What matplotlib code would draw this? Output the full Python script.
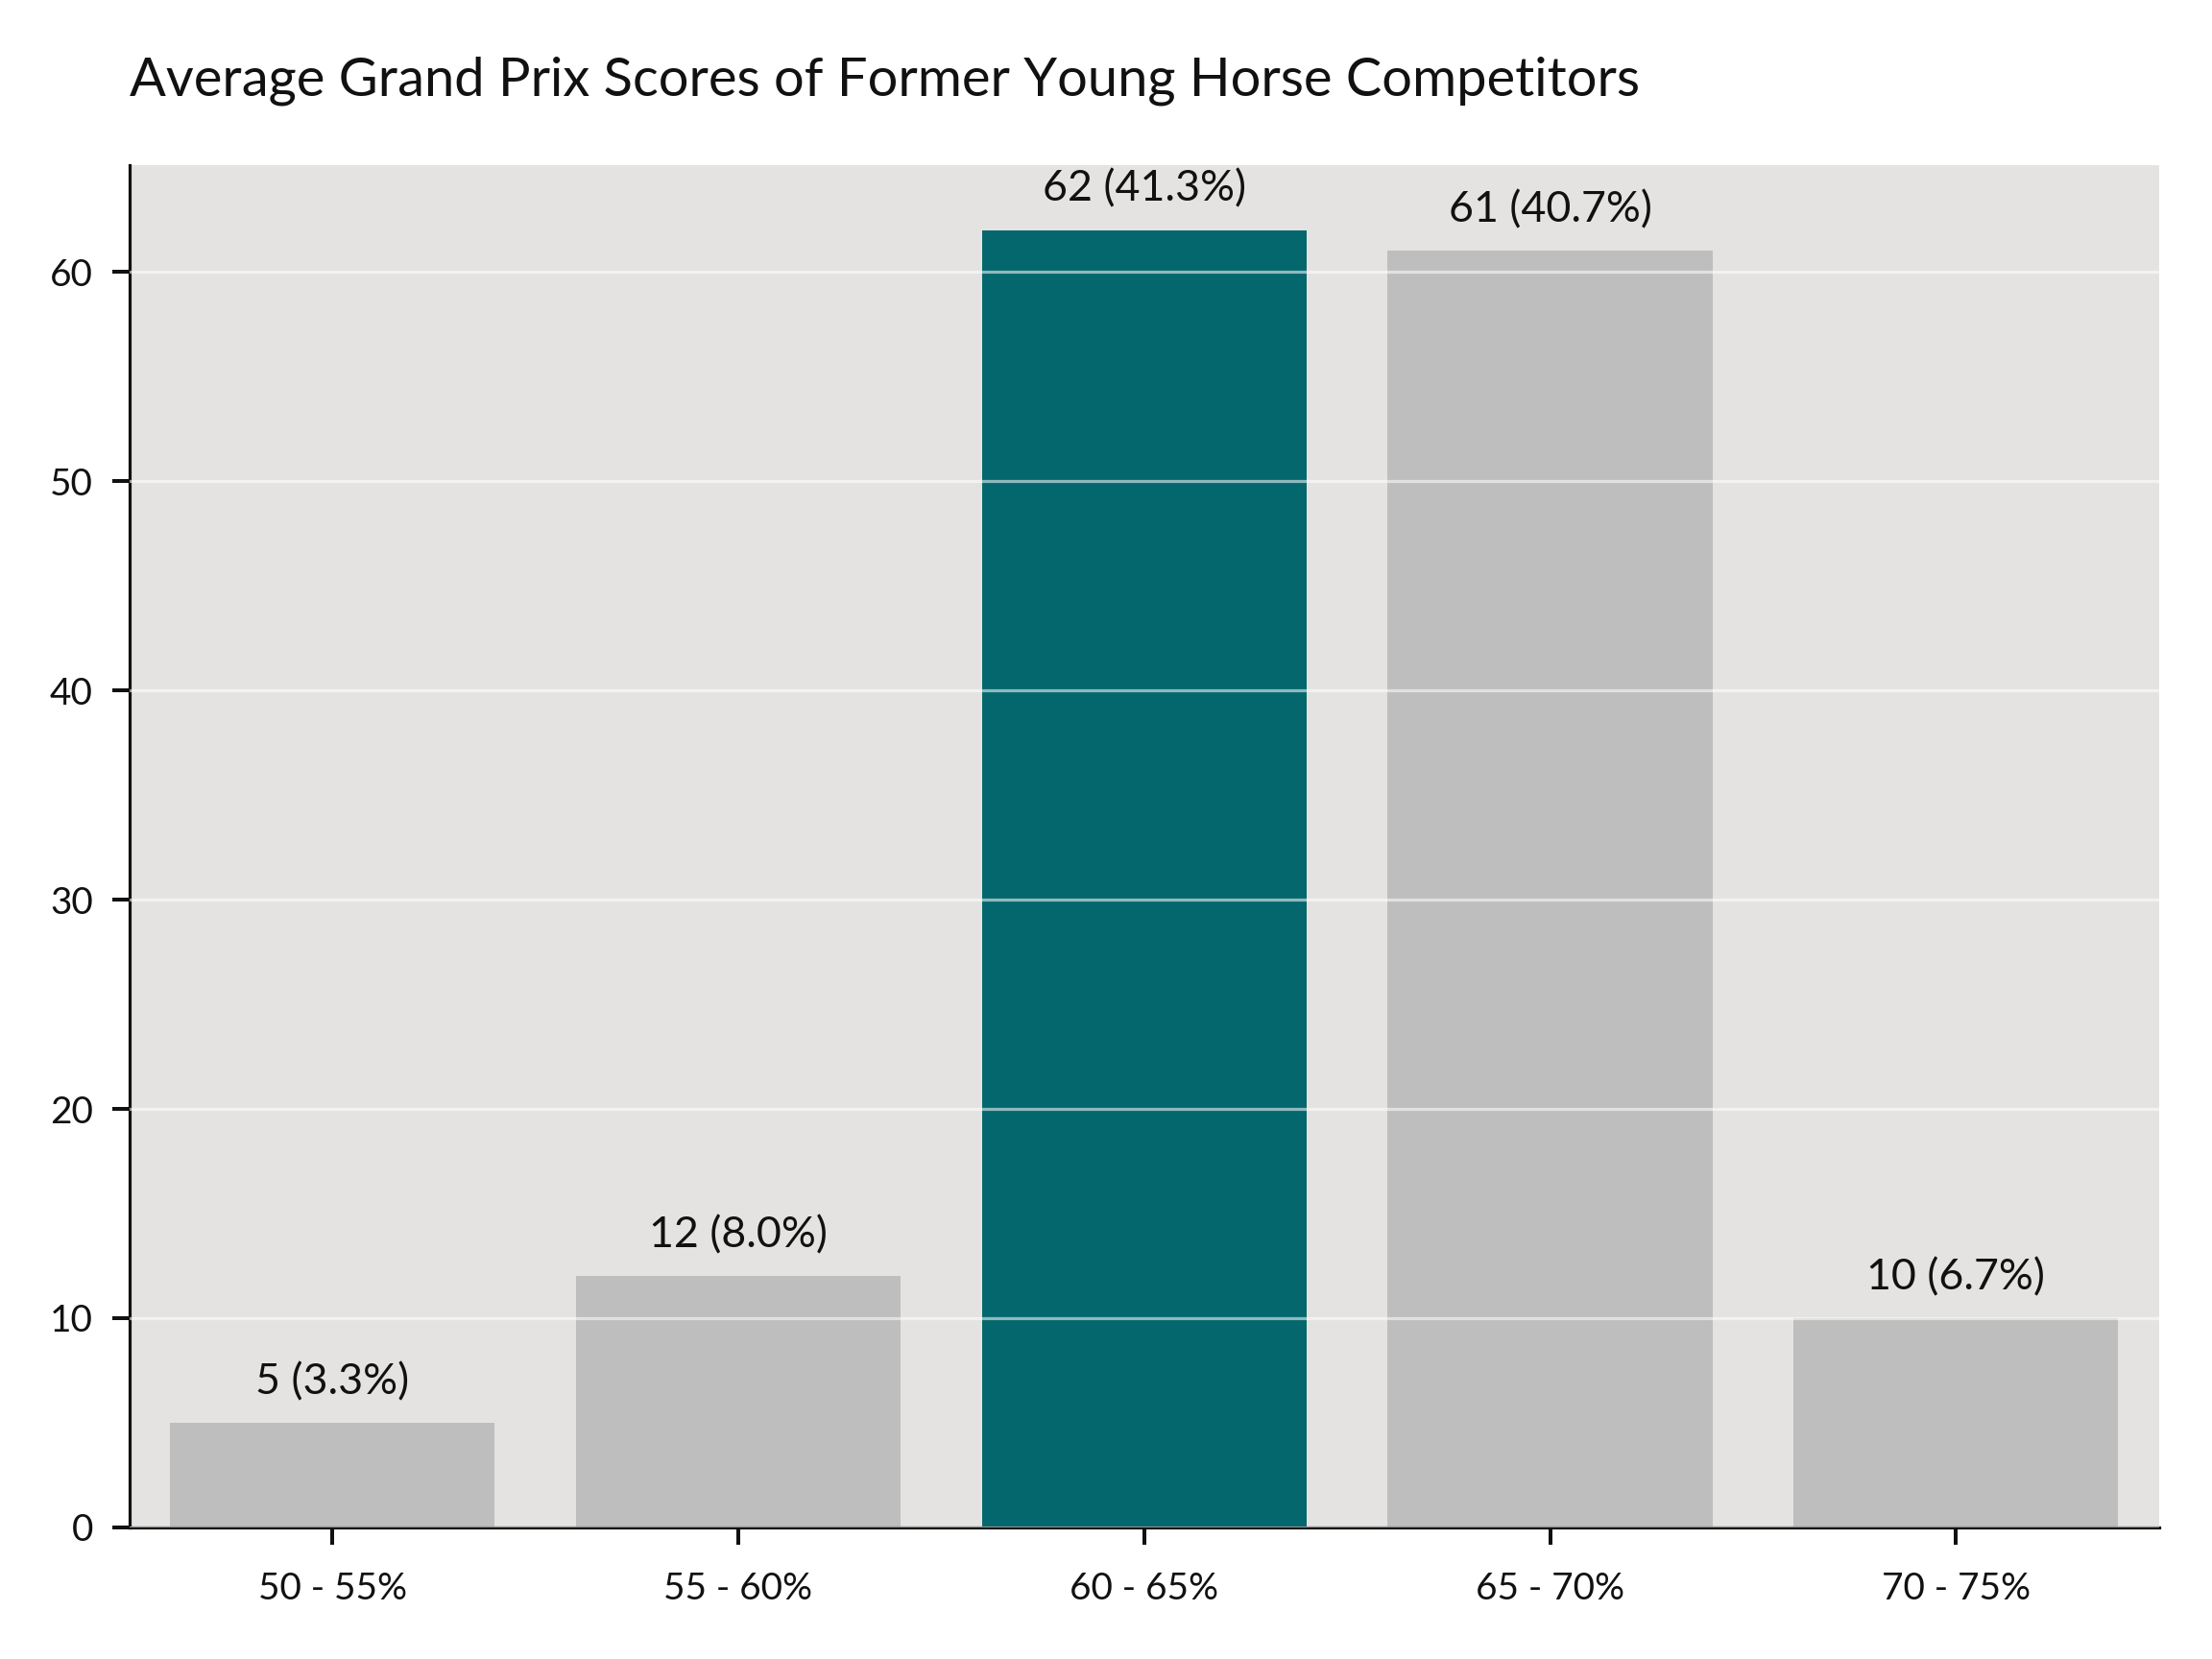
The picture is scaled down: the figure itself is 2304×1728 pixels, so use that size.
import matplotlib
matplotlib.use("Agg")
import matplotlib.pyplot as plt

categories = ["50 - 55%", "55 - 60%", "60 - 65%", "65 - 70%", "70 - 75%"]
counts = [5, 12, 62, 61, 10]
highlight = "60 - 65%"
title = "Average Grand Prix Scores of Former Young Horse Competitors"

plt.rcParams['font.family'] = ['Lato', 'DejaVu Sans']

fig = plt.figure(figsize=(8, 6), dpi=288)
ax = fig.add_axes([0.0585, 0.0793, 0.976 - 0.0585, 0.9005 - 0.0793])
ax.set_facecolor("#e4e3e1")

total = sum(counts)
colors = ["#05676e" if c == highlight else "#bebebe" for c in categories]
x = list(range(len(categories)))
bars = ax.bar(x, counts, width=0.8, color=colors, zorder=2)

for xi, c in zip(x, counts):
    ax.annotate(f"{c} ({c / total * 100:.1f}%)", (xi, c), xytext=(0, 5.5),
                textcoords="offset points", ha="center", va="bottom",
                fontsize=11.2, color="#111111", clip_on=True, zorder=4)

ax.set_xlim(-0.5, len(categories) - 0.5)
ax.set_ylim(0, max(counts) * 1.05)
ax.set_xticks(x)
ax.set_xticklabels(categories)
ax.set_yticks([0, 10, 20, 30, 40, 50, 60])
ax.tick_params(axis='both', labelsize=9.7, length=4.5, width=1.0, color="#111111",
               labelcolor="#111111")
ax.tick_params(axis='x', pad=7)
ax.tick_params(axis='y', pad=5)

ax.yaxis.grid(True, color="white", alpha=0.55, linewidth=0.8, zorder=3)
ax.set_axisbelow(False)
for s in ["top", "right"]:
    ax.spines[s].set_visible(False)
for s in ["left", "bottom"]:
    ax.spines[s].set_linewidth(0.8)
    ax.spines[s].set_color("#111111")

fig.text(0.0585, 0.951, title, fontsize=14, ha="left", va="center", color="#111111")

fig.savefig("out.png", dpi=288, facecolor="white")
